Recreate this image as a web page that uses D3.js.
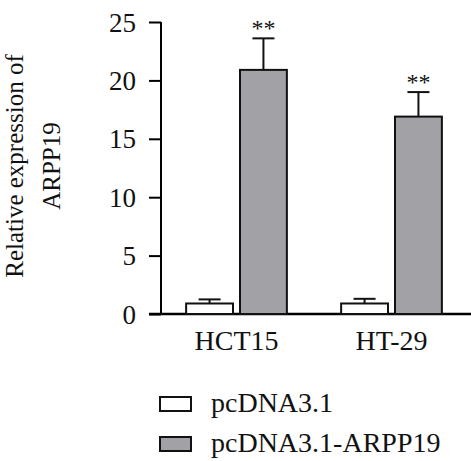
<!DOCTYPE html>
<html>
<head>
<meta charset="utf-8">
<script src="https://cdn.jsdelivr.net/npm/d3@7"></script>
<style>
  body { margin: 0; background: #fff; }
  svg text { font-family: "Liberation Serif", "DejaVu Serif", serif; fill: #111; }
</style>
</head>
<body>
<div class="canvas"></div>
<script>
// DATA
const groups = ["HCT15", "HT-29"];
const series = ["pcDNA3.1", "pcDNA3.1-ARPP19"];
const means = [[0.9, 20.9], [0.9, 16.9]];
const errors = [[0.35, 2.7], [0.4, 2.1]];
const stars = [["", "**"], ["", "**"]];
const yTicks = [0, 5, 10, 15, 20, 25];
const colors = ["#ffffff", "#a2a1a6"];

// Dimensions
const margins = { top: 22, right: 0, bottom: 147, left: 161 };
const width = 471 - margins.left - margins.right;
const height = 461 - margins.top - margins.bottom;

const svg = d3.select(".canvas")
  .append("svg")
  .attr("width", 471)
  .attr("height", 461);

const canvas = svg.append("g")
  .attr("transform", `translate(${margins.left},${margins.top})`);

// SCALES
const x0 = d3.scaleBand()
  .domain(groups)
  .range([-2, width - 2])
  .paddingInner(0.35)
  .paddingOuter(0.175);

const x1 = d3.scaleBand()
  .domain(series)
  .range([0, x0.bandwidth()])
  .paddingInner(0.13);

const y = d3.scaleLinear()
  .domain([0, 25])
  .range([height, 0]);

// AXES
const yAxis = canvas.append("g")
  .call(d3.axisLeft(y).tickValues(yTicks).tickSize(12).tickPadding(13));
yAxis.select(".domain").attr("stroke-width", 2).attr("d", `M0,0V${height}`);
yAxis.selectAll(".tick line").attr("stroke-width", 2);
yAxis.selectAll(".tick text").style("font-size", "27px").attr("dy", "0.34em");

const xAxis = canvas.append("g")
  .attr("transform", `translate(0,${height})`)
  .call(d3.axisBottom(x0).tickSize(0).tickPadding(16));
xAxis.select(".domain").attr("stroke-width", 2.5).attr("d", `M-12,0H${width}`);
xAxis.selectAll(".tick text").style("font-size", "28px").attr("dy", "0.71em");

// BARS
const rows = [];
groups.forEach((g, i) => {
  series.forEach((s, j) => {
    rows.push({ group: g, series: s, value: means[i][j], err: errors[i][j], star: stars[i][j], color: colors[j] });
  });
});

const bar = canvas.selectAll(".bar")
  .data(rows)
  .enter()
  .append("g")
  .attr("class", "bar")
  .attr("transform", d => `translate(${x0(d.group) + x1(d.series)},0)`);

const bw = x1.bandwidth();

// error bars (upper only)
bar.append("line")
  .attr("x1", bw / 2).attr("x2", bw / 2)
  .attr("y1", d => y(d.value)).attr("y2", d => y(d.value + d.err))
  .attr("stroke", "#111").attr("stroke-width", 2);

bar.append("line")
  .attr("x1", bw / 2 - 11).attr("x2", bw / 2 + 11)
  .attr("y1", d => y(d.value + d.err)).attr("y2", d => y(d.value + d.err))
  .attr("stroke", "#111").attr("stroke-width", 2);

bar.append("rect")
  .attr("x", 0)
  .attr("y", d => y(d.value))
  .attr("width", bw)
  .attr("height", d => height - y(d.value))
  .attr("fill", d => d.color)
  .attr("stroke", "#111")
  .attr("stroke-width", 2);

bar.append("text")
  .attr("x", bw / 2)
  .attr("y", d => y(d.value + d.err) - 2)
  .attr("text-anchor", "middle")
  .style("font-size", "24px")
  .text(d => d.star);

// Y LABEL
const ylab = svg.append("text")
  .attr("transform", "translate(0,166) rotate(-90)")
  .attr("text-anchor", "middle")
  .style("font-size", "25px");
ylab.append("tspan").attr("x", 0).attr("y", 23).text("Relative expression of");
ylab.append("tspan").attr("x", 0).attr("y", 60).text("ARPP19");

// LEGEND
const legend = svg.append("g")
  .attr("transform", "translate(160,397)");

const item = legend.selectAll(".item")
  .data(series)
  .enter()
  .append("g")
  .attr("transform", (d, i) => `translate(0,${i * 40})`);

item.append("rect")
  .attr("width", 31).attr("height", 14)
  .attr("fill", (d, i) => colors[i])
  .attr("stroke", "#111").attr("stroke-width", 2);

item.append("text")
  .attr("x", 51).attr("y", 15)
  .style("font-size", "28px")
  .text(d => d);
</script>
</body>
</html>
